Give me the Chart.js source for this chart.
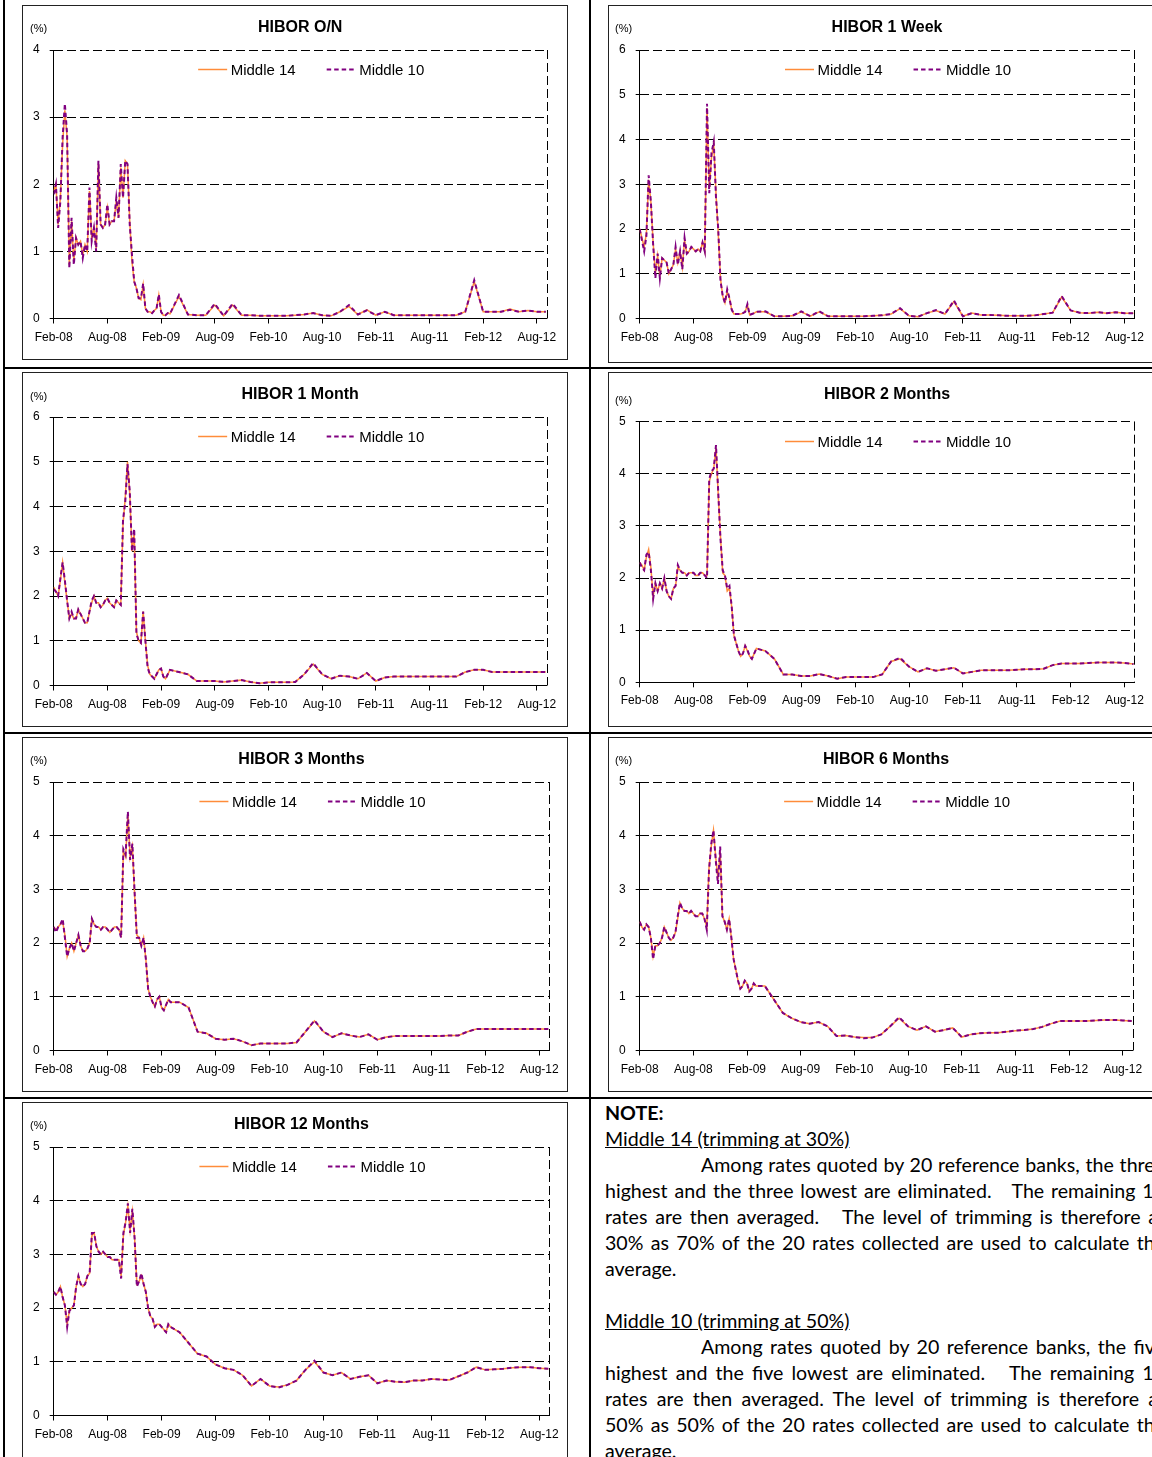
<!DOCTYPE html>
<html>
<head>
<meta charset="utf-8">
<script src="https://cdn.jsdelivr.net/npm/chart.js@4.4.0/dist/chart.umd.min.js"></script>
<style>
  html, body { margin: 0; padding: 0; background: #fff; }
  #page { position: relative; width: 1152px; height: 1457px; overflow: hidden; background: #fff; }
  .rule { position: absolute; background: #000; }
  .box { position: absolute; box-sizing: border-box; border: 1px solid #222; }
  .box canvas { position: absolute; top: 0; left: 0; }
  .pct { position: absolute; font: 11px/12px 'Liberation Sans', Arial, sans-serif; color: #000; }
  #note { position: absolute; left: 605px; top: 1100px; width: 560px; font-family: Lato, 'Open Sans', sans-serif; font-size: 19.6px; line-height: 26px; color: #000; }
  #note div { white-space: nowrap; }
  #note .j { text-align: justify; text-align-last: justify; }
  #note .ind { text-indent: 96px; }
</style>
</head>
<body>
<div id="page">
  <div class="rule" style="left:3px;top:0;width:2px;height:1457px"></div>
  <div class="rule" style="left:589px;top:0;width:2px;height:1457px"></div>
  <div class="rule" style="left:3px;top:367px;width:1149px;height:2px"></div>
  <div class="rule" style="left:3px;top:732px;width:1149px;height:2px"></div>
  <div class="rule" style="left:3px;top:1097px;width:1149px;height:2px"></div>

  <div class="box" style="left:22px;top:5px;width:546px;height:355px"><canvas id="c0" width="544" height="353"></canvas><span class="pct" style="left:7px;top:16px">(%)</span></div>
  <div class="box" style="left:608px;top:5px;width:600px;height:358px"><canvas id="c1" width="544" height="353"></canvas><span class="pct" style="left:6px;top:16px">(%)</span></div>
  <div class="box" style="left:22px;top:372px;width:546px;height:355px"><canvas id="c2" width="544" height="353"></canvas><span class="pct" style="left:7px;top:17px">(%)</span></div>
  <div class="box" style="left:608px;top:372px;width:600px;height:355px"><canvas id="c3" width="544" height="353"></canvas><span class="pct" style="left:6px;top:21px">(%)</span></div>
  <div class="box" style="left:22px;top:737px;width:546px;height:355px"><canvas id="c4" width="544" height="353"></canvas><span class="pct" style="left:7px;top:16px">(%)</span></div>
  <div class="box" style="left:608px;top:737px;width:600px;height:355px"><canvas id="c5" width="544" height="353"></canvas><span class="pct" style="left:6px;top:16px">(%)</span></div>
  <div class="box" style="left:22px;top:1102px;width:546px;height:370px"><canvas id="c6" width="544" height="353"></canvas><span class="pct" style="left:7px;top:16px">(%)</span></div>

  <div id="note">
    <div style="font-weight:bold">NOTE:</div>
    <div><u>Middle 14 (trimming at 30%)</u></div>
    <div class="j ind">Among rates quoted by 20 reference banks, the three</div>
    <div class="j">highest and the three lowest are eliminated.&nbsp;&nbsp; The remaining 14</div>
    <div class="j">rates are then averaged.&nbsp;&nbsp; The level of trimming is therefore at</div>
    <div class="j">30% as 70% of the 20 rates collected are used to calculate the</div>
    <div>average.</div>
    <div>&nbsp;</div>
    <div><u>Middle 10 (trimming at 50%)</u></div>
    <div class="j ind">Among rates quoted by 20 reference banks, the five</div>
    <div class="j">highest and the five lowest are eliminated.&nbsp;&nbsp; The remaining 10</div>
    <div class="j">rates are then averaged. The level of trimming is therefore at</div>
    <div class="j">50% as 50% of the 20 rates collected are used to calculate the</div>
    <div>average.</div>
  </div>
</div>

<script>
// x positions in months since Feb-08: weekly to Mar-09, then monthly
const dates = [
  0, 0.25, 0.5, 0.75, 1, 1.25, 1.5, 1.75, 2, 2.25, 2.5, 2.75,
  3, 3.25, 3.5, 3.75, 4, 4.25, 4.5, 4.75, 5, 5.25, 5.5, 5.75,
  6, 6.25, 6.5, 6.75, 7, 7.25, 7.5, 7.75, 8, 8.25, 8.5, 8.75,
  9, 9.25, 9.5, 9.75, 10, 10.25, 10.5, 10.75, 11, 11.25, 11.5, 11.75,
  12, 12.25, 12.5, 12.75, 13,
  14, 15, 16, 17, 18, 19, 20, 21, 22, 23, 24, 25,
  26, 27, 28, 29, 30, 31, 32, 33, 34, 35, 36, 37,
  38, 39, 40, 41, 42, 43, 44, 45, 46, 47, 48, 49,
  50, 51, 52, 53, 54, 55
];
const xTickMonths = [0, 6, 12, 18, 24, 30, 36, 42, 48, 54];
const xLabels = ['Feb-08', 'Aug-08', 'Feb-09', 'Aug-09', 'Feb-10', 'Aug-10', 'Feb-11', 'Aug-11', 'Feb-12', 'Aug-12'];
const xMax = 55.1;

const titles = ['HIBOR O/N', 'HIBOR 1 Week', 'HIBOR 1 Month', 'HIBOR 2 Months', 'HIBOR 3 Months', 'HIBOR 6 Months', 'HIBOR 12 Months'];
const yMaxes = [4, 6, 6, 5, 5, 5, 5];
const seriesNames = ['Middle 14', 'Middle 10'];

const onM14 = [
  1.9, 2.0, 1.4, 1.8,  2.6, 3.1, 2.7, 0.8,  1.45, 0.85, 1.2, 1.1,
  1.15, 0.95, 1.1, 1.0,  1.9, 1.2, 1.35, 1.05,  2.3, 1.4, 1.35, 1.4,
  1.65, 1.4, 1.45, 1.45,  1.75, 1.5, 2.25, 1.8,  2.35, 2.3, 1.45, 0.85,
  0.55, 0.45, 0.3, 0.28,  0.5, 0.15, 0.1, 0.1,  0.08, 0.12, 0.15, 0.35,
  0.1, 0.05, 0.05, 0.08,  0.07,
  0.33, 0.06, 0.05, 0.05, 0.2, 0.04, 0.2, 0.05, 0.05, 0.04, 0.04, 0.04,
  0.04, 0.05, 0.06, 0.08, 0.05, 0.04, 0.1, 0.18, 0.06, 0.13, 0.05, 0.1,
  0.05, 0.05, 0.05, 0.05, 0.05, 0.05, 0.05, 0.05, 0.1, 0.55, 0.1, 0.1,
  0.1, 0.14, 0.1, 0.12, 0.1, 0.1
];
const onM10 = [
  1.85, 2.0, 1.35, 1.75,  2.7, 3.2, 2.75, 0.75,  1.5, 0.8, 1.2, 1.1,
  1.15, 0.9, 1.1, 1.0,  1.95, 1.15, 1.35, 1.0,  2.35, 1.4, 1.35, 1.4,
  1.7, 1.4, 1.45, 1.45,  1.8, 1.5, 2.3, 1.8,  2.35, 2.3, 1.4, 0.95,
  0.55, 0.45, 0.3, 0.3,  0.52, 0.15, 0.1, 0.1,  0.08, 0.12, 0.15, 0.36,
  0.1, 0.05, 0.05, 0.08,  0.07,
  0.35, 0.06, 0.05, 0.05, 0.22, 0.04, 0.22, 0.05, 0.05, 0.04, 0.04, 0.04,
  0.04, 0.05, 0.06, 0.08, 0.05, 0.04, 0.1, 0.2, 0.06, 0.12, 0.05, 0.1,
  0.05, 0.05, 0.05, 0.05, 0.05, 0.05, 0.05, 0.05, 0.1, 0.57, 0.1, 0.1,
  0.1, 0.13, 0.1, 0.12, 0.1, 0.1
];

const w1M14 = [
  2.0, 1.8, 1.6, 1.9,  3.1, 2.6, 1.7, 1.0,  1.4, 0.95, 1.35, 1.3,
  1.25, 1.0, 1.1, 1.2,  1.55, 1.25, 1.5, 1.15,  1.75, 1.45, 1.5, 1.6,
  1.55, 1.5, 1.55, 1.5,  1.7, 1.5, 4.7, 2.9,  3.6, 3.9, 2.8, 1.9,
  0.9, 0.5, 0.35, 0.6,  0.45, 0.2, 0.1, 0.1,  0.1, 0.1, 0.12, 0.15,
  0.3, 0.08, 0.1, 0.12,  0.15,
  0.15, 0.05, 0.05, 0.06, 0.15, 0.05, 0.15, 0.05, 0.05, 0.05, 0.05, 0.05,
  0.06, 0.07, 0.1, 0.22, 0.06, 0.04, 0.12, 0.18, 0.1, 0.38, 0.05, 0.12,
  0.08, 0.08, 0.07, 0.06, 0.06, 0.06, 0.07, 0.1, 0.13, 0.48, 0.18, 0.13,
  0.12, 0.14, 0.12, 0.14, 0.12, 0.12
];
const w1M10 = [
  2.0, 1.75, 1.5, 1.85,  3.2, 2.6, 1.65, 0.9,  1.45, 0.9, 1.35, 1.3,
  1.25, 1.0, 1.1, 1.2,  1.6, 1.2, 1.5, 1.1,  1.8, 1.45, 1.5, 1.6,
  1.55, 1.5, 1.55, 1.5,  1.7, 1.5, 4.8, 2.8,  3.7, 3.95, 2.7, 2.0,
  0.85, 0.5, 0.35, 0.65,  0.45, 0.2, 0.1, 0.1,  0.1, 0.1, 0.12, 0.15,
  0.32, 0.08, 0.1, 0.12,  0.15,
  0.16, 0.05, 0.05, 0.06, 0.16, 0.05, 0.16, 0.05, 0.05, 0.05, 0.05, 0.05,
  0.06, 0.07, 0.1, 0.23, 0.06, 0.04, 0.12, 0.19, 0.1, 0.4, 0.05, 0.12,
  0.08, 0.08, 0.07, 0.06, 0.06, 0.06, 0.07, 0.1, 0.13, 0.5, 0.18, 0.13,
  0.12, 0.14, 0.12, 0.14, 0.12, 0.12
];

const m1M14 = [
  2.2, 2.1, 2.0, 2.35,  2.75, 2.3, 1.9, 1.5,  1.6, 1.5, 1.5, 1.7,
  1.6, 1.5, 1.4, 1.4,  1.65, 1.85, 2.0, 1.85,  1.85, 1.75, 1.8, 1.9,
  1.95, 1.85, 1.8, 1.75,  1.9, 1.85, 1.8, 3.6,  4.2, 5.0, 4.3, 3.0,
  3.4, 1.2, 1.0, 0.95,  1.65, 1.0, 0.45, 0.25,  0.2, 0.15, 0.25, 0.35,
  0.38, 0.2, 0.15, 0.25,  0.35,
  0.3, 0.25, 0.1, 0.1, 0.1, 0.08, 0.1, 0.12, 0.08, 0.05, 0.07, 0.07,
  0.07, 0.08, 0.25, 0.48, 0.25, 0.15, 0.22, 0.2, 0.15, 0.28, 0.1, 0.18,
  0.2, 0.2, 0.2, 0.2, 0.2, 0.2, 0.2, 0.2, 0.3, 0.35, 0.35, 0.3,
  0.3, 0.3, 0.3, 0.3, 0.3, 0.3
];
const m1M10 = [
  2.15, 2.1, 2.0, 2.4,  2.75, 2.35, 1.9, 1.5,  1.65, 1.5, 1.5, 1.7,
  1.6, 1.5, 1.4, 1.4,  1.65, 1.9, 2.0, 1.85,  1.85, 1.75, 1.8, 1.9,
  1.95, 1.85, 1.8, 1.75,  1.9, 1.85, 1.8, 3.7,  4.1, 4.95, 4.35, 3.0,
  3.5, 1.15, 1.0, 0.95,  1.65, 1.0, 0.4, 0.25,  0.2, 0.15, 0.25, 0.35,
  0.38, 0.2, 0.15, 0.25,  0.35,
  0.3, 0.25, 0.1, 0.1, 0.1, 0.08, 0.1, 0.12, 0.08, 0.05, 0.07, 0.07,
  0.07, 0.08, 0.25, 0.5, 0.25, 0.15, 0.22, 0.2, 0.15, 0.28, 0.1, 0.18,
  0.2, 0.2, 0.2, 0.2, 0.2, 0.2, 0.2, 0.2, 0.3, 0.35, 0.35, 0.3,
  0.3, 0.3, 0.3, 0.3, 0.3, 0.3
];

const m2M14 = [
  2.3, 2.25, 2.15, 2.4,  2.55, 2.2, 1.65, 1.9,  1.75, 1.9, 1.8, 2.0,
  1.75, 1.65, 1.6, 1.8,  1.85, 2.2, 2.15, 2.1,  2.1, 2.05, 2.1, 2.1,
  2.1, 2.05, 2.05, 2.1,  2.1, 2.05, 2.05, 3.85,  4.0, 4.1, 4.5, 3.6,
  2.8, 2.1, 2.05, 1.75,  1.8, 1.45, 0.9, 0.75,  0.6, 0.5, 0.55, 0.7,
  0.6, 0.5, 0.45, 0.55,  0.65,
  0.6, 0.45, 0.15, 0.15, 0.12, 0.12, 0.16, 0.12, 0.07, 0.1, 0.1, 0.1,
  0.1, 0.15, 0.4, 0.45, 0.3, 0.2, 0.27, 0.22, 0.25, 0.28, 0.17, 0.2,
  0.23, 0.23, 0.23, 0.23, 0.24, 0.25, 0.25, 0.26, 0.33, 0.36, 0.36, 0.36,
  0.37, 0.38, 0.38, 0.38, 0.37, 0.35
];
const m2M10 = [
  2.3, 2.2, 2.15, 2.45,  2.5, 2.15, 1.6, 1.9,  1.75, 1.9, 1.8, 2.0,
  1.75, 1.65, 1.6, 1.8,  1.85, 2.25, 2.15, 2.1,  2.1, 2.05, 2.1, 2.1,
  2.1, 2.05, 2.05, 2.1,  2.1, 2.05, 2.0, 3.9,  4.05, 4.1, 4.55, 3.65,
  2.75, 2.15, 2.05, 1.8,  1.85, 1.45, 0.9, 0.75,  0.6, 0.5, 0.55, 0.7,
  0.62, 0.5, 0.45, 0.55,  0.65,
  0.6, 0.45, 0.15, 0.15, 0.12, 0.12, 0.16, 0.12, 0.07, 0.1, 0.1, 0.1,
  0.1, 0.15, 0.4, 0.47, 0.3, 0.2, 0.27, 0.22, 0.25, 0.28, 0.17, 0.2,
  0.23, 0.23, 0.23, 0.23, 0.24, 0.25, 0.25, 0.26, 0.33, 0.36, 0.36, 0.36,
  0.37, 0.38, 0.38, 0.38, 0.37, 0.35
];

const m3M14 = [
  2.3, 2.25, 2.3, 2.35,  2.4, 2.15, 1.75, 1.9,  2.0, 1.85, 2.0, 2.15,
  1.95, 1.85, 1.85, 1.9,  2.0, 2.45, 2.35, 2.3,  2.3, 2.25, 2.3, 2.3,
  2.25, 2.2, 2.25, 2.3,  2.3, 2.25, 2.15, 3.7,  3.6, 4.4, 3.6, 3.8,
  2.9, 2.15, 2.1, 1.95,  2.1, 1.7, 1.15, 1.0,  0.9, 0.82, 0.95, 1.0,
  0.8, 0.75, 0.85, 0.95,  0.9,
  0.9, 0.8, 0.35, 0.32, 0.22, 0.2, 0.22, 0.17, 0.1, 0.13, 0.13, 0.13,
  0.13, 0.15, 0.35, 0.55, 0.35, 0.25, 0.32, 0.28, 0.25, 0.3, 0.2, 0.25,
  0.27, 0.27, 0.27, 0.27, 0.27, 0.27, 0.28, 0.28, 0.35, 0.4, 0.4, 0.4,
  0.4, 0.4, 0.4, 0.4, 0.4, 0.4
];
const m3M10 = [
  2.3, 2.2, 2.3, 2.35,  2.45, 2.1, 1.75, 1.9,  2.0, 1.85, 2.0, 2.15,
  1.95, 1.85, 1.85, 1.9,  2.0, 2.45, 2.35, 2.3,  2.3, 2.25, 2.3, 2.3,
  2.25, 2.2, 2.25, 2.3,  2.3, 2.25, 2.1, 3.75,  3.65, 4.45, 3.55, 3.85,
  2.95, 2.1, 2.1, 1.95,  2.1, 1.7, 1.15, 1.0,  0.9, 0.82, 0.95, 1.0,
  0.8, 0.75, 0.85, 0.95,  0.9,
  0.9, 0.8, 0.35, 0.32, 0.22, 0.2, 0.22, 0.17, 0.1, 0.13, 0.13, 0.13,
  0.13, 0.15, 0.35, 0.56, 0.35, 0.25, 0.32, 0.28, 0.25, 0.3, 0.2, 0.25,
  0.27, 0.27, 0.27, 0.27, 0.27, 0.27, 0.28, 0.28, 0.35, 0.4, 0.4, 0.4,
  0.4, 0.4, 0.4, 0.4, 0.4, 0.4
];

const m6M14 = [
  2.4, 2.3, 2.25, 2.35,  2.3, 2.1, 1.75, 1.95,  1.95, 2.0, 2.1, 2.3,
  2.2, 2.1, 2.05, 2.1,  2.2, 2.45, 2.75, 2.65,  2.6, 2.6, 2.55, 2.6,
  2.55, 2.5, 2.5, 2.55,  2.55, 2.45, 2.3, 3.4,  3.8, 4.1, 3.6, 3.2,
  3.7, 2.5, 2.4, 2.25,  2.45, 2.1, 1.7, 1.5,  1.3, 1.15, 1.2, 1.3,
  1.25, 1.1, 1.15, 1.25,  1.2,
  1.2, 0.95, 0.7, 0.6, 0.53, 0.5, 0.53, 0.45, 0.27, 0.28, 0.25, 0.24,
  0.24, 0.3, 0.45, 0.6, 0.45, 0.38, 0.45, 0.35, 0.38, 0.42, 0.25, 0.3,
  0.32, 0.33, 0.33, 0.35, 0.37, 0.38, 0.4, 0.44, 0.5, 0.55, 0.55, 0.55,
  0.55, 0.56, 0.57, 0.57, 0.56, 0.55
];
const m6M10 = [
  2.4, 2.3, 2.25, 2.35,  2.3, 2.1, 1.7, 1.95,  1.95, 2.0, 2.1, 2.3,
  2.2, 2.1, 2.05, 2.1,  2.2, 2.5, 2.75, 2.65,  2.6, 2.6, 2.55, 2.6,
  2.55, 2.5, 2.5, 2.55,  2.55, 2.45, 2.25, 3.35,  3.85, 4.1, 3.55, 3.1,
  3.8, 2.5, 2.4, 2.25,  2.45, 2.1, 1.7, 1.5,  1.3, 1.15, 1.2, 1.3,
  1.25, 1.1, 1.15, 1.25,  1.2,
  1.2, 0.95, 0.7, 0.6, 0.53, 0.5, 0.53, 0.45, 0.27, 0.28, 0.25, 0.23,
  0.24, 0.3, 0.45, 0.62, 0.45, 0.38, 0.45, 0.35, 0.38, 0.42, 0.25, 0.3,
  0.32, 0.33, 0.33, 0.35, 0.37, 0.38, 0.4, 0.44, 0.5, 0.55, 0.55, 0.55,
  0.55, 0.56, 0.57, 0.57, 0.56, 0.55
];

const m12M14 = [
  2.3, 2.25, 2.3, 2.4,  2.2, 2.05, 1.7, 1.95,  2.0, 2.05, 2.4, 2.6,
  2.45, 2.4, 2.45, 2.6,  2.65, 3.35, 3.4, 3.15,  3.05, 3.0, 3.05, 3.0,
  2.95, 2.95, 2.9, 2.9,  2.9, 2.9, 2.6, 3.35,  3.6, 3.9, 3.45, 3.8,
  3.3, 2.45, 2.5, 2.6,  2.45, 2.3, 2.0, 1.85,  1.8, 1.65, 1.7, 1.7,
  1.65, 1.6, 1.55, 1.7,  1.65,
  1.55, 1.35, 1.15, 1.1, 0.95, 0.88, 0.85, 0.75, 0.55, 0.68, 0.55, 0.53,
  0.57, 0.65, 0.85, 1.0, 0.8, 0.75, 0.8, 0.68, 0.72, 0.75, 0.6, 0.65,
  0.63, 0.62, 0.65, 0.65, 0.68, 0.67, 0.66, 0.73, 0.8, 0.9, 0.85, 0.86,
  0.87, 0.89, 0.9, 0.9, 0.88, 0.87
];
const m12M10 = [
  2.3, 2.25, 2.3, 2.4,  2.2, 2.05, 1.65, 1.95,  2.0, 2.05, 2.4, 2.6,
  2.45, 2.4, 2.45, 2.6,  2.65, 3.4, 3.4, 3.15,  3.05, 3.0, 3.05, 3.0,
  2.95, 2.95, 2.9, 2.9,  2.9, 2.9, 2.55, 3.4,  3.6, 3.95, 3.4, 3.85,
  3.3, 2.4, 2.5, 2.65,  2.45, 2.3, 2.0, 1.85,  1.8, 1.65, 1.7, 1.7,
  1.65, 1.6, 1.55, 1.7,  1.65,
  1.55, 1.35, 1.15, 1.1, 0.95, 0.88, 0.85, 0.75, 0.55, 0.68, 0.55, 0.52,
  0.57, 0.65, 0.85, 1.02, 0.8, 0.75, 0.8, 0.68, 0.72, 0.75, 0.6, 0.65,
  0.63, 0.62, 0.65, 0.65, 0.68, 0.67, 0.66, 0.73, 0.8, 0.9, 0.85, 0.86,
  0.87, 0.89, 0.9, 0.9, 0.88, 0.87
];

const mid14 = [onM14, w1M14, m1M14, m2M14, m3M14, m6M14, m12M14];
const mid10 = [onM10, w1M10, m1M10, m2M10, m3M10, m6M10, m12M10];

// room left of the canvas edge after each plot (the reference plots differ slightly)
const rightPads = [20.3, 18.6, 20.3, 18.6, 17.8, 20.4, 17.8];

Chart.defaults.font.family = "'Liberation Sans', Arial, sans-serif";
Chart.defaults.color = '#000';

// dashed right edge of the plot frame
const dashEdge = {
    id: 'dashEdge',
    beforeDatasetsDraw(chart) {
        const { ctx, chartArea } = chart;
        const x = Math.round(chartArea.right) + 0.5;
        ctx.save();
        ctx.strokeStyle = '#000';
        ctx.lineWidth = 1;
        ctx.setLineDash([9, 4]);
        ctx.beginPath();
        ctx.moveTo(x, chartArea.top);
        ctx.lineTo(x, chartArea.bottom);
        ctx.stroke();
        ctx.restore();
    }
};

// one-row legend drawn inside the top of the plot area
const insideLegend = {
    id: 'insideLegend',
    afterDatasetsDraw(chart) {
        const { ctx, chartArea } = chart;
        const sets = chart.data.datasets;
        const lineLen = 29, textGap = 3.5, itemGap = 31;
        ctx.save();
        ctx.font = "15px 'Liberation Sans', Arial, sans-serif";
        const widths = sets.map(ds => lineLen + textGap + ctx.measureText(ds.label).width);
        const total = widths.reduce((a, b) => a + b, 0) + itemGap * (sets.length - 1);
        let x = (chartArea.left + chartArea.right) / 2 + 11 - total / 2;
        const y = Math.round(chartArea.top + 19) + 0.5;
        sets.forEach((ds, k) => {
            ctx.strokeStyle = ds.borderColor;
            ctx.lineWidth = ds.borderWidth;
            ctx.setLineDash(ds.borderDash || []);
            ctx.beginPath();
            ctx.moveTo(x, y);
            ctx.lineTo(x + lineLen, y);
            ctx.stroke();
            ctx.setLineDash([]);
            ctx.fillStyle = '#000';
            ctx.textBaseline = 'middle';
            ctx.textAlign = 'left';
            ctx.fillText(ds.label, x + lineLen + textGap, y + 1);
            x += widths[k] + itemGap;
        });
        ctx.restore();
    }
};

function toPoints(values) {
    return dates.map((x, k) => ({ x: x, y: values[k] }));
}

function makeChart(i) {
    const lowerPlot = i === 3;
    new Chart(document.getElementById('c' + i), {
        type: 'line',
        data: {
            datasets: [
                { label: seriesNames[0], data: toPoints(mid14[i]), borderColor: '#ff8c3a', borderWidth: 1.5, pointRadius: 0, order: 1 },
                { label: seriesNames[1], data: toPoints(mid10[i]), borderColor: '#800080', borderWidth: 2, borderDash: [4.5, 3], pointRadius: 0, order: 0 }
            ]
        },
        options: {
            responsive: false,
            animation: false,
            events: [],
            layout: { padding: { left: 0, right: rightPads[i], top: 0, bottom: lowerPlot ? 11.3 : 8.1 } },
            plugins: {
                title: {
                    display: true,
                    fullSize: false,
                    text: titles[i],
                    color: '#000',
                    font: { size: 16, weight: 'bold' },
                    padding: { top: 12.4, bottom: lowerPlot ? 17.1 : 12.4 }
                },
                legend: { display: false },
                tooltip: { enabled: false }
            },
            scales: {
                x: {
                    type: 'linear',
                    min: 0,
                    max: xMax,
                    afterBuildTicks: scale => {
                        scale.ticks = xTickMonths.map(v => ({ value: v }));
                    },
                    ticks: {
                        callback: (v, k) => xLabels[k],
                        autoSkip: false,
                        maxRotation: 0,
                        padding: 6.5,
                        color: '#000',
                        font: { size: 12 }
                    },
                    grid: { drawOnChartArea: false, tickLength: 5, tickColor: '#000' },
                    border: { color: '#000', width: 1 }
                },
                y: {
                    min: 0,
                    max: yMaxes[i],
                    ticks: { stepSize: 1, padding: 10, color: '#000', font: { size: 12 } },
                    grid: { color: '#000', lineWidth: 1, tickLength: 4, tickColor: '#000' },
                    border: { color: '#000', width: 1, dash: [9, 4] }
                }
            }
        },
        plugins: [dashEdge, insideLegend]
    });
}

for (let i = 0; i < titles.length; i++) {
    makeChart(i);
}
</script>
</body>
</html>
